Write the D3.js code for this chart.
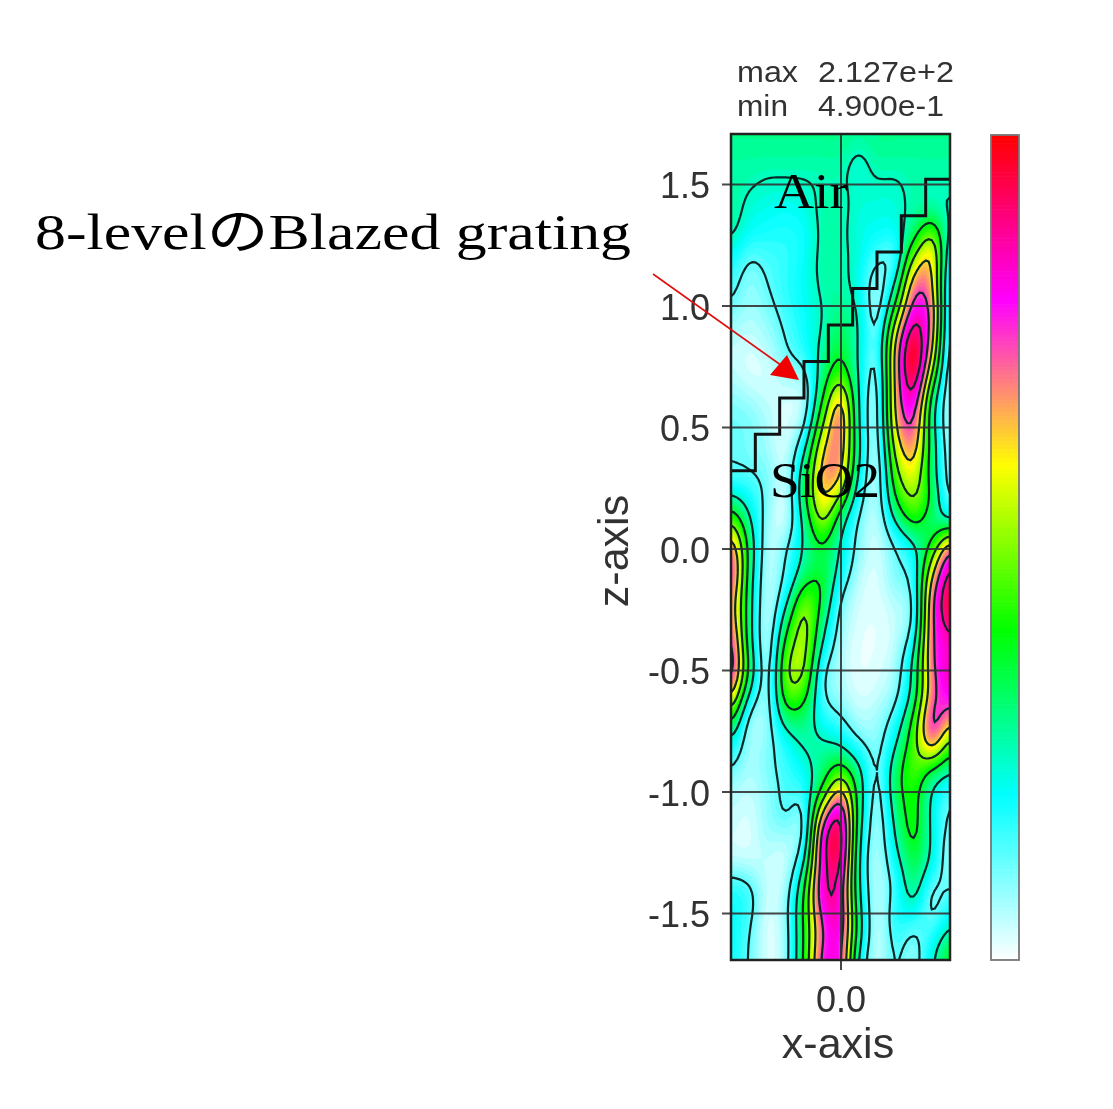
<!DOCTYPE html>
<html>
<head>
<meta charset="utf-8">
<script src="https://cdn.jsdelivr.net/npm/d3@7"></script>
<style>
  body { margin: 0; background: #fff; }
  svg { display: block; }
  text { font-family: "Liberation Sans", Arial, sans-serif; fill: #333; }
  .note { font-family: "Liberation Serif", "Noto Sans CJK JP", serif; fill: #000; }
</style>
</head>
<body>
<svg id="chart" width="1113" height="1109"></svg>
<script>
// values, in percent of the colour bar (0 = min, 100 = max)
const xValues = [-0.45, -0.375, -0.3, -0.225, -0.15, -0.075, 0, 0.075, 0.15, 0.225, 0.3, 0.375, 0.45];
const zValues = [1.7, 1.6, 1.5, 1.4, 1.3, 1.2, 1.1, 1.0, 0.9, 0.8, 0.7, 0.6, 0.5, 0.4, 0.3, 0.2, 0.1, 0,
  -0.1, -0.2, -0.3, -0.4, -0.5, -0.6, -0.7, -0.8, -0.9, -1.0, -1.1, -1.2, -1.3, -1.4, -1.5, -1.6, -1.7];
const fieldValues = [
  [30,30,30,30,30,30,30,30,30,30,30,30,30],
  [27,27,27,27,27,27,27,22,27,27,27,27,27],
  [27,26,24.5,24.5,24.5,25,25,24.5,24.5,24.5,26,26,26],
  [28,23,21,20,22,27,27,23,22,22,27,24,24],
  [27,21,19,18,19,26,26,22,21,22,30,48,22],
  [20,12.5,14,16,20,27,26.5,23,14,12,50,65,15],
  [15,9,13,17,21,26.5,27,20,8,25,68,63,10],
  [12,8,10.5,16,20,25,28,24,7,37,78,72,8],
  [7,5,8,13,19,25,33,25,13,58,92,70,8],
  [4,3,5,12,18,28,36,24,14,67,102,64,6],
  [6,3,3,6,8,30,45,24,10,65,96,47,5],
  [10,8,5,3,6,38,68,25,9,65,82,30,5],
  [12,11,7,3,11,50,72,25,9,62,74,30,5],
  [12,10,7,4,24,62,68,28,7,53,67,33,7],
  [13,13,11,6,33,67,66,23,6,45,57,30,8],
  [27,20,10,4,35,62,45,17,7,37,51,38,10],
  [52,28,8,4,26,50,27,10,5,24,38,28,25],
  [73,35,6,13,27,33,24,10,4,10,20,42,78],
  [82,32,6,13,28,36,22,6,3,12,18,60,90],
  [70,30,5,20,46,38,12,4,3,6,14,72,100],
  [72,30,5,32,54,30,10,3,2,5,13,72,93],
  [80,30,6,42,54,25,7,2,2,5,22,73,82],
  [85,38,8,50,52,14,6,2,3,8,30,72,88],
  [66,24,9,45,42,14,7,3,4,9,27,68,82],
  [40,8,9,30,30,18,13,6,8,17,42,80,70],
  [20,8,9,18,27,27,23,13,9,23,45,72,45],
  [13,7,11,16,21,30,38,28,12,32,47,36,30],
  [6,5,8,14,17,37,66,32,9,33,40,23,12],
  [5,3,9,14,12,68,90,32,8,28,42,23,12],
  [3,3,7,6,14,84,94,28,7,25,39,23,8],
  [5,4,4,4,25,80,90,25,6,20,33,24,6],
  [20,16,5,8,38,86,80,26,6,14,30,10,12.5],
  [18,15,3,10,40,78,85,30,5,19,20,11,20],
  [22,12,3,8,38,72,80,32,5,15,10,18,28],
  [18,12,3,9,40,80,78,20,5,13,9,24,42]
];
const contourLevels = [12.5, 25, 37.5, 50, 62.5, 75, 87.5];
const colorDomain = [0, 20, 40, 60, 80, 100];
const colorRange = ["#ffffff", "#00ffff", "#00ff00", "#ffff00", "#ff00ff", "#ff0000"];
const zTicks = [1.5, 1.0, 0.5, 0.0, -0.5, -1.0, -1.5];
const xTicks = [0.0];
// top of the grating: step edges in x, level of each step in z
const stepEdges = [-0.45, -0.35, -0.25, -0.15, -0.05, 0.05, 0.15, 0.25, 0.35, 0.45];
const stepLevels = [0.32, 0.47, 0.62, 0.77, 0.92, 1.07, 1.22, 1.37, 1.52];

const plotLeft = 731, plotRight = 950, plotTop = 134, plotBottom = 960;
const svg = d3.select("#chart");
const x = d3.scaleLinear().domain([-0.45, 0.45]).range([plotLeft, plotRight]);
const z = d3.scaleLinear().domain([1.706, -1.693]).range([plotTop, plotBottom]);
const color = d3.scaleLinear().domain(colorDomain).range(colorRange);

// smooth the grid for drawing only, the bands get too angular otherwise
const factor = 6;
function cr(a, b, c, d, t) {
  return 0.5 * (2 * b + (c - a) * t + (2 * a - 5 * b + 4 * c - d) * t * t + (3 * b - a - 3 * c + d) * t * t * t);
}
function at(arr, i) { return arr[Math.max(0, Math.min(arr.length - 1, i))]; }
function sampleRow(row, u) {
  var i = Math.min(Math.floor(u), row.length - 2);
  return cr(at(row, i - 1), row[i], row[i + 1], at(row, i + 2), u - i);
}
var nx = (xValues.length - 1) * factor + 1, nz = (zValues.length - 1) * factor + 1;
var fine = new Array(nx * nz);
for (var j = 0; j < nz; j++) {
  var v = j / factor, k = Math.min(Math.floor(v), zValues.length - 2), t = v - k;
  for (var i = 0; i < nx; i++) {
    var u = i / factor;
    fine[j * nx + i] = cr(
      sampleRow(at(fieldValues, k - 1), u), sampleRow(fieldValues[k], u),
      sampleRow(fieldValues[k + 1], u), sampleRow(at(fieldValues, k + 2), u), t);
  }
}
d3.blur2({data: fine, width: nx}, 1, 3);

// contour coordinates -> data -> pixels
var cx = d3.scaleLinear().domain([0.5, nx - 0.5]).range([x(xValues[0]), x(xValues[xValues.length - 1])]);
var cz = d3.scaleLinear().domain([0.5, nz - 0.5]).range([z(zValues[0]), z(zValues[zValues.length - 1])]);
var path = d3.geoPath(d3.geoTransform({
  point: function (a, b) { this.stream.point(cx(a), cz(b)); }
}));
var contours = d3.contours().size([nx, nz]).smooth(true);

var defs = svg.append("defs");
defs.append("clipPath").attr("id", "plot-clip").append("rect")
  .attr("x", plotLeft).attr("y", plotTop).attr("width", plotRight - plotLeft).attr("height", plotBottom - plotTop);
defs.append("filter").attr("id", "soft").attr("x", "-5%").attr("y", "-5%").attr("width", "110%").attr("height", "110%")
  .append("feGaussianBlur").attr("stdDeviation", 0.6);
defs.append("filter").attr("id", "soft-text").attr("x", "-10%").attr("y", "-10%").attr("width", "120%").attr("height", "120%")
  .append("feGaussianBlur").attr("stdDeviation", 0.45);

var plot = svg.append("g").attr("clip-path", "url(#plot-clip)").append("g").attr("filter", "url(#soft)");
plot.append("rect").attr("x", plotLeft).attr("y", plotTop).attr("width", plotRight - plotLeft).attr("height", plotBottom - plotTop).attr("fill", "#fff");

// filled bands
plot.append("g").selectAll("path")
  .data(d3.range(0.5, 102, 1.5))
  .join("path")
  .attr("d", d => path(contours.contour(fine, d)))
  .attr("fill", d => color(Math.min(100, d + 0.75)));

// contour lines
plot.append("g").selectAll("path")
  .data(contourLevels)
  .join("path")
  .attr("d", d => path(contours.contour(fine, d)))
  .attr("fill", "none")
  .attr("stroke", "#082828")
  .attr("stroke-width", 2.2);

// grating profile
var stepPoints = [];
stepLevels.forEach(function (lv, i) {
  stepPoints.push([stepEdges[i], lv]);
  stepPoints.push([stepEdges[i + 1], lv]);
});
svg.append("path")
  .attr("clip-path", "url(#plot-clip)")
  .attr("d", d3.line().x(d => x(d[0])).y(d => z(d[1]))(stepPoints))
  .attr("fill", "none")
  .attr("stroke", "#111")
  .attr("stroke-width", 3);

// axes with the grid lines going through the plot, hyphen instead of the d3 minus
var tickFormat = d => d3.format(".1f")(d).replace("\u2212", "-");
var axisZ = svg.append("g").attr("transform", `translate(${plotLeft},0)`)
  .call(d3.axisLeft(z).tickValues(zTicks).tickFormat(tickFormat).tickSize(9).tickPadding(12));
axisZ.selectAll(".tick line").attr("x1", -9).attr("x2", plotRight - plotLeft);
var axisX = svg.append("g").attr("transform", `translate(0,${plotBottom})`)
  .call(d3.axisBottom(x).tickValues(xTicks).tickFormat(tickFormat).tickSize(10).tickPadding(16));
axisX.selectAll(".tick line").attr("y1", plotTop - plotBottom).attr("y2", 10);
svg.selectAll(".domain").remove();
svg.selectAll(".tick line").attr("stroke", "#333").attr("stroke-opacity", 0.9).attr("stroke-width", 2);
svg.selectAll(".tick text").attr("font-size", 36).attr("fill", "#333").attr("filter", "url(#soft-text)")
  .style("font-family", '"Liberation Sans", Arial, sans-serif');
axisZ.selectAll(".tick text").attr("y", 2).attr("dy", "0.32em");

svg.append("rect").attr("x", plotLeft).attr("y", plotTop).attr("width", plotRight - plotLeft).attr("height", plotBottom - plotTop)
  .attr("fill", "none").attr("stroke", "#222").attr("stroke-width", 2.5);

var labels = svg.append("g").attr("filter", "url(#soft-text)");
labels.append("text").attr("x", 838).attr("y", 1058).attr("text-anchor", "middle").attr("font-size", 43).text("x-axis");
labels.append("text").attr("transform", "translate(628,551) rotate(-90)").attr("text-anchor", "middle").attr("font-size", 43).text("z-axis");

// max / min header
function header(tx, ty, len, s) {
  labels.append("text").attr("x", tx).attr("y", ty).attr("font-size", 29.5)
    .attr("textLength", len).attr("lengthAdjust", "spacingAndGlyphs").text(s);
}
header(737, 82, 61, "max");
header(818, 82, 136, "2.127e+2");
header(737, 116, 51, "min");
header(818, 116, 126, "4.900e-1");

// colour bar
var barX = 991, barW = 28;
var barY = d3.scaleLinear().domain([0, 100]).range([960, 135]);
svg.append("g").selectAll("rect")
  .data(d3.range(0, 100, 0.5))
  .join("rect")
  .attr("x", barX).attr("width", barW)
  .attr("y", d => barY(d + 0.5)).attr("height", d => barY(d) - barY(d + 0.5) + 0.6)
  .attr("fill", d => color(d + 0.25));
svg.append("rect").attr("x", barX).attr("y", 135).attr("width", barW).attr("height", 825)
  .attr("fill", "none").attr("stroke", "#777").attr("stroke-width", 1.8);

// notes pasted over the plot
svg.append("text").attr("class", "note").attr("x", 35).attr("y", 249).attr("font-size", 50)
  .attr("textLength", 596).attr("lengthAdjust", "spacingAndGlyphs").text("8-levelのBlazed grating");
svg.append("text").attr("class", "note").attr("x", 774).attr("y", 208).attr("font-size", 50)
  .attr("textLength", 74).attr("lengthAdjust", "spacingAndGlyphs").text("Air");
svg.append("text").attr("class", "note").attr("x", 770).attr("y", 497).attr("font-size", 50)
  .attr("textLength", 110).attr("lengthAdjust", "spacingAndGlyphs").text("SiO2");

svg.append("line").attr("x1", 653).attr("y1", 274).attr("x2", 785).attr("y2", 368)
  .attr("stroke", "#e01010").attr("stroke-width", 1.6);
svg.append("path").attr("d", d3.line()([[770, 375], [787, 355], [799, 380]])).attr("fill", "#f00000");
</script>
</body>
</html>
